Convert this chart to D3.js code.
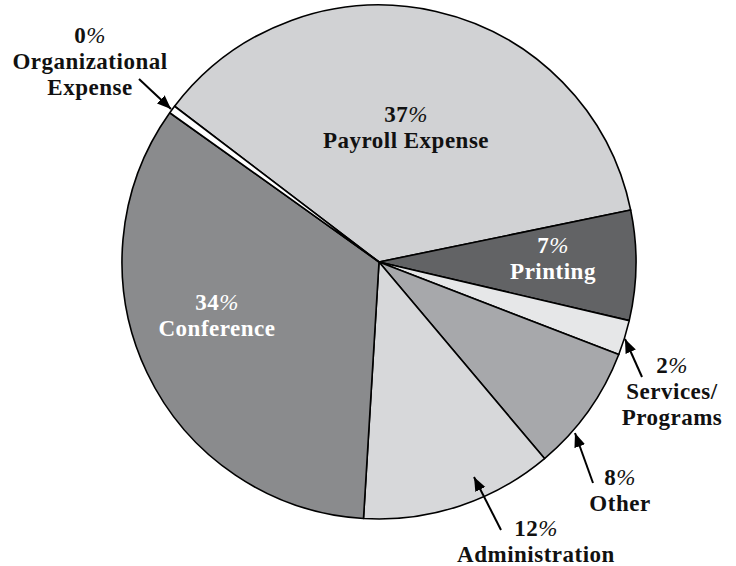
<!DOCTYPE html>
<html lang="en">
<head>
<meta charset="UTF-8">
<title>Expense pie</title>
<style>
    body { margin: 0; background: #fff; }
    svg text { font-family: "Palatino Linotype", "Book Antiqua", Palatino, "Liberation Serif", serif; font-weight: bold; font-size: 23px; letter-spacing: 0.5px; }
</style>
</head>
<body>
<div id="chart"></div>
<script src="https://d3js.org/d3.v7.min.js"></script>
<script>
    // data (clockwise from the top-left sliver)
    var categories = ["Payroll Expense", "Printing", "Services/Programs", "Other", "Administration", "Conference", "Organizational Expense"];
    var values = [36.4, 6.9, 2.2, 8.0, 12.1, 33.9, 0.5];
    var pctLabels = ["37%", "7%", "2%", "8%", "12%", "34%", "0%"];
    var nameLines = [["Payroll Expense"], ["Printing"], ["Services/", "Programs"], ["Other"], ["Administration"], ["Conference"], ["Organizational", "Expense"]];

    var fills = ["#d1d2d4", "#626365", "#e6e7e8", "#a7a8ab", "#d7d8da", "#8a8b8d", "#ffffff"];
    var textFill = ["#111", "#fff", "#111", "#111", "#111", "#fff", "#111"];

    // layout: label anchor (centre x, first baseline) and arrows for outside labels
    var labelPos = [[406, 122], [553, 253], [672, 373], [620, 485], [536, 536], [217, 310], [90, 43]];
    var lineGap = 26;
    var arrows = [null, null, [[642, 377], [625, 339]], [[593, 483], [575, 433]], [[501, 530], [474, 477]], null, [[139, 79], [171, 109]]];

    var W = 736, H = 566;
    var cx = 379, cy = 262, R = 257;
    var startDeg = -52.7;

    var svg = d3.select("#chart").append("svg")
        .attr("width", W)
        .attr("height", H);

    svg.append("defs").append("marker")
        .attr("id", "head")
        .attr("viewBox", "0 0 10 10")
        .attr("refX", 10).attr("refY", 5)
        .attr("markerWidth", 7).attr("markerHeight", 7)
        .attr("markerUnits", "strokeWidth")
        .attr("orient", "auto")
        .append("path")
        .attr("d", "M0,1 L10,5 L0,9 z")
        .attr("fill", "#000");

    var pie = d3.pie().sort(null).value(function (d) { return d; })
        .startAngle(startDeg * Math.PI / 180)
        .endAngle((startDeg + 360) * Math.PI / 180);
    var arc = d3.arc().innerRadius(0).outerRadius(R);

    var g = svg.append("g").attr("transform", "translate(" + cx + "," + cy + ")");
    g.selectAll("path.slice")
        .data(pie(values))
        .enter().append("path")
        .attr("class", "slice")
        .attr("d", arc)
        .attr("fill", function (d, i) { return fills[i]; })
        .attr("stroke", "#000")
        .attr("stroke-width", 1.6)
        .attr("stroke-linejoin", "round");

    // arrows
    arrows.forEach(function (a) {
        if (!a) return;
        svg.append("line")
            .attr("x1", a[0][0]).attr("y1", a[0][1])
            .attr("x2", a[1][0]).attr("y2", a[1][1])
            .attr("stroke", "#000")
            .attr("stroke-width", 2)
            .attr("marker-end", "url(#head)");
    });

    // labels
    categories.forEach(function (c, i) {
        var t = svg.append("text")
            .attr("text-anchor", "middle")
            .attr("fill", textFill[i]);
        var lines = [pctLabels[i]].concat(nameLines[i]);
        lines.forEach(function (ln, k) {
            var ts = t.append("tspan")
                .attr("x", labelPos[i][0])
                .attr("y", labelPos[i][1] + k * lineGap);
            if (k === 0) {
                ts.append("tspan").text(ln.replace("%", ""));
                ts.append("tspan").attr("font-weight", "normal").attr("font-style", "italic").text("%");
            } else {
                ts.text(ln);
            }
        });
    });
</script>
</body>
</html>
